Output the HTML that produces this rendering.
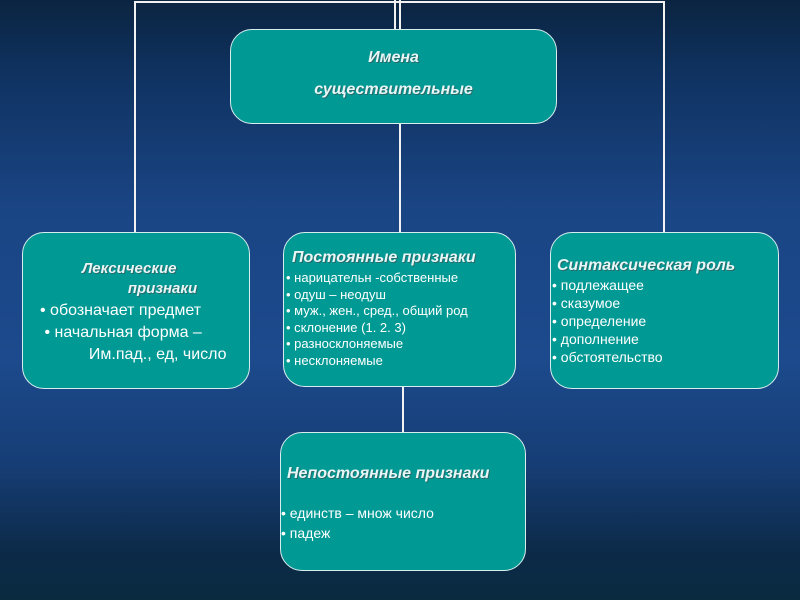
<!DOCTYPE html>
<html><head><meta charset="utf-8"><style>
body{margin:0;width:800px;height:600px;overflow:hidden;position:relative;
background:linear-gradient(to bottom,#0b2440 0%,#0f3260 12%,#1a4585 35%,#1c4a8c 60%,#163d74 78%,#0c2a48 92%,#0a2a40 100%);
font-family:"Liberation Sans","DejaVu Sans",sans-serif;color:#fff}
.l{position:absolute;background:#f2f2f2}
.b{position:absolute;background:#009994;border:1.5px solid #d8eeee;border-radius:22px;box-sizing:border-box}
.t{position:absolute;font-style:italic;font-weight:bold;color:#e8f6f6;text-shadow:1px 1px 0 #2a6a6a;font-size:15px;white-space:nowrap}
.s{position:absolute;font-size:13px;line-height:16.5px;white-space:nowrap}
</style></head><body>
<div class="l" style="left:134px;top:1px;width:531px;height:2px"></div>
<div class="l" style="left:134px;top:1px;width:2px;height:232px"></div>
<div class="l" style="left:663px;top:1px;width:2px;height:232px"></div>
<div class="l" style="left:394px;top:0;width:2px;height:30px"></div>
<div class="l" style="left:399px;top:0;width:2px;height:233px"></div>
<div class="l" style="left:402px;top:386px;width:2px;height:47px"></div>

<div class="b" style="left:230px;top:29px;width:327px;height:95px"></div>
<div class="t" style="left:230px;top:42px;width:327px;text-align:center;line-height:32px;font-size:16px">Имена<br>существительные</div>

<div class="b" style="left:22px;top:232px;width:228px;height:157px"></div>
<div class="t" style="left:82px;top:259px;line-height:20px">Лексические<br>&nbsp;&nbsp;&nbsp;&nbsp;&nbsp;&nbsp;&nbsp;&nbsp;&nbsp;&nbsp;&nbsp;признаки</div>
<div class="s" style="left:40px;top:300px;font-size:16px;line-height:22px">• обозначает предмет<br>&nbsp;• начальная форма –<br>&nbsp;&nbsp;&nbsp;&nbsp;&nbsp;&nbsp;&nbsp;&nbsp;&nbsp;&nbsp;&nbsp;Им.пад., ед, число</div>

<div class="b" style="left:283px;top:232px;width:233px;height:155px"></div>
<div class="t" style="left:292px;top:249px;font-size:16px">Постоянные признаки</div>
<div class="s" style="left:286px;top:270px">• нарицательн -собственные<br>• одуш – неодуш<br>• муж., жен., сред., общий род<br>• склонение (1. 2. 3)<br>• разносклоняемые<br>• несклоняемые</div>

<div class="b" style="left:550px;top:232px;width:229px;height:157px"></div>
<div class="t" style="left:557px;top:257px;font-size:16px">Синтаксическая роль</div>
<div class="s" style="left:552px;top:276px;font-size:14px;line-height:18px">• подлежащее<br>• сказумое<br>• определение<br>• дополнение<br>• обстоятельство</div>

<div class="b" style="left:280px;top:432px;width:246px;height:139px"></div>
<div class="t" style="left:287px;top:465px;font-size:16px">Непостоянные признаки</div>
<div class="s" style="left:281px;top:503px;font-size:14px;line-height:20px">• единств – множ число<br>• падеж</div>
</body></html>
